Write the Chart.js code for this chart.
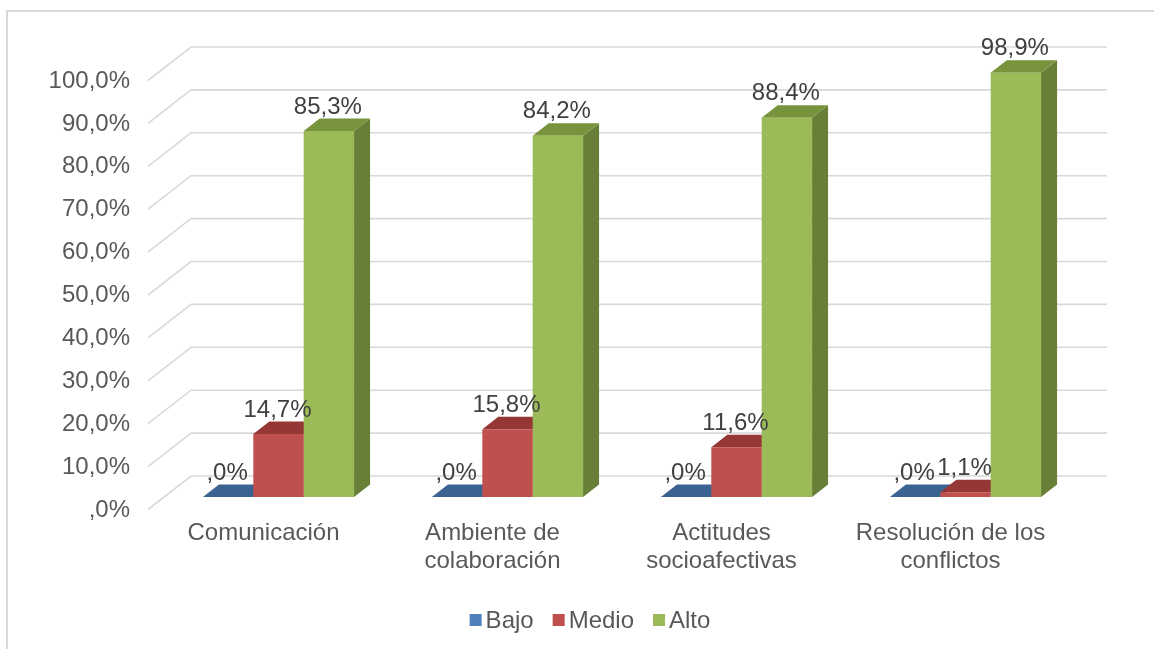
<!DOCTYPE html>
<html>
<head>
<meta charset="utf-8">
<script src="https://cdn.jsdelivr.net/npm/chart.js@4.4.1/dist/chart.umd.min.js"></script>
<style>
    html, body { margin: 0; padding: 0; background: #fff; overflow: hidden; }
    #grafico { display: block; }
</style>
</head>
<body>
<canvas id="grafico" width="1154" height="649"></canvas>
<script>
// Dimensiones evaluadas
const categorias = [
    ['Comunicación'],
    ['Ambiente de', 'colaboración'],
    ['Actitudes', 'socioafectivas'],
    ['Resolución de los', 'conflictos']
];

// Porcentajes por nivel
const bajo = [0, 0, 0, 0];
const medio = [14.7, 15.8, 11.6, 1.1];
const alto = [85.3, 84.2, 88.4, 98.9];

// Eje Y: 0 a 100 en pasos de 10
const ejeMin = 0;
const ejeMax = 100;
const ejePaso = 10;

// Colores: frente, tapa y lateral de cada serie
const colores = {
    Bajo:  { frente: '#4F81BD', tapa: '#3B6391', lado: '#345881' },
    Medio: { frente: '#C0504D', tapa: '#953735', lado: '#8A3A38' },
    Alto:  { frente: '#9BBB59', tapa: '#77933C', lado: '#677F37' }
};

const fuente = '"Liberation Sans", Arial, sans-serif';

// Profundidad de la barra y de las paredes (efecto 3D)
const barraDX = 16, barraDY = 12.5;
const fondoDX = 27, fondoDY = 21;
const frenteDX = 16, frenteDY = 12.5;

// Formato de porcentaje como lo exporta SPSS (",0%", "85,3%")
function formatoPct(v) {
    if (v === 0) return ',0%';
    return v.toFixed(1).replace('.', ',') + '%';
}

function poligono(ctx, pts, color) {
    ctx.beginPath();
    ctx.moveTo(pts[0][0], pts[0][1]);
    for (let i = 1; i < pts.length; i++) ctx.lineTo(pts[i][0], pts[i][1]);
    ctx.closePath();
    ctx.fillStyle = color;
    ctx.fill();
}

// Borde del área del gráfico y líneas de la pared del fondo
const paredes = {
    id: 'paredes',
    beforeDraw(chart) {
        const ctx = chart.ctx;
        ctx.save();
        ctx.strokeStyle = '#d9d9d9';
        ctx.lineWidth = 2;
        ctx.beginPath();
        ctx.moveTo(7, chart.height);
        ctx.lineTo(7, 11);
        ctx.lineTo(chart.width, 11);
        ctx.stroke();
        ctx.restore();
    },
    beforeDatasetsDraw(chart) {
        const ctx = chart.ctx;
        const y = chart.scales.y;
        const area = chart.chartArea;
        ctx.save();
        ctx.strokeStyle = '#d9d9d9';
        ctx.lineWidth = 1.6;
        for (let v = ejeMin; v <= ejeMax; v += ejePaso) {
            const py = y.getPixelForValue(v);
            ctx.beginPath();
            ctx.moveTo(area.left - frenteDX, py + frenteDY);
            ctx.lineTo(area.left + fondoDX, py - fondoDY);
            ctx.lineTo(area.right + fondoDX, py - fondoDY);
            ctx.stroke();
        }
        ctx.restore();
    }
};

// Tapas y laterales de todas las barras; Chart.js pinta luego los frentes
// encima, así el frente de cada barra tapa el lateral de su vecina.
const barras3d = {
    id: 'barras3d',
    beforeDatasetsDraw(chart) {
        const ctx = chart.ctx;
        ctx.save();
        chart.data.datasets.forEach((ds, i) => {
            const c = colores[ds.label];
            chart.getDatasetMeta(i).data.forEach(bar => {
                const izq = bar.x - bar.width / 2;
                const der = bar.x + bar.width / 2;
                const arriba = bar.y;
                const base = bar.base;
                poligono(ctx, [
                    [der, arriba], [der + barraDX, arriba - barraDY],
                    [der + barraDX, base - barraDY], [der, base]
                ], c.lado);
                poligono(ctx, [
                    [izq, arriba], [izq + barraDX, arriba - barraDY],
                    [der + barraDX, arriba - barraDY], [der, arriba]
                ], c.tapa);
            });
        });
        ctx.restore();
    },
    afterDatasetsDraw(chart) {
        const ctx = chart.ctx;
        ctx.save();
        ctx.font = '24px ' + fuente;
        ctx.fillStyle = '#404040';
        ctx.textAlign = 'center';
        ctx.textBaseline = 'middle';
        chart.data.datasets.forEach((ds, i) => {
            chart.getDatasetMeta(i).data.forEach((bar, j) => {
                ctx.fillText(formatoPct(ds.data[j]), bar.x - 1, bar.y - 24);
            });
        });
        ctx.restore();
    }
};

// Leyenda inferior
const leyenda = {
    id: 'leyenda',
    afterDraw(chart) {
        const ctx = chart.ctx;
        const caja = 12, hueco = 4, separacion = 19;
        ctx.save();
        ctx.font = '24px ' + fuente;
        ctx.textBaseline = 'middle';
        const items = chart.data.datasets.map(ds => ({
            texto: ds.label,
            color: colores[ds.label].frente,
            ancho: ctx.measureText(ds.label).width
        }));
        let total = 0;
        items.forEach((it, i) => {
            total += caja + hueco + it.ancho + (i < items.length - 1 ? separacion : 0);
        });
        let x = 590 - total / 2;
        const yc = 620;
        items.forEach(it => {
            ctx.fillStyle = it.color;
            ctx.fillRect(x, yc - caja / 2, caja, caja);
            ctx.fillStyle = '#595959';
            ctx.fillText(it.texto, x + caja + hueco, yc + 1);
            x += caja + hueco + it.ancho + separacion;
        });
        ctx.restore();
    }
};

new Chart(document.getElementById('grafico'), {
    type: 'bar',
    data: {
        labels: categorias,
        datasets: [
            { label: 'Bajo', data: bajo, backgroundColor: colores.Bajo.frente },
            { label: 'Medio', data: medio, backgroundColor: colores.Medio.frente },
            { label: 'Alto', data: alto, backgroundColor: colores.Alto.frente }
        ]
    },
    options: {
        responsive: false,
        devicePixelRatio: 1,
        animation: false,
        categoryPercentage: 0.66,
        barPercentage: 1,
        layout: { padding: { top: 68, right: 74, bottom: 0, left: 0 } },
        plugins: {
            legend: { display: false },
            tooltip: { enabled: false }
        },
        scales: {
            x: {
                grid: { display: false, drawTicks: false },
                border: { display: false },
                ticks: {
                    color: '#595959',
                    font: { family: fuente, size: 24, lineHeight: 1.15 },
                    padding: 23,
                    labelOffset: -15,
                    maxRotation: 0,
                    autoSkip: false
                },
                afterFit(scale) { scale.height = 152; }
            },
            y: {
                min: ejeMin,
                max: ejeMax,
                grid: { display: false, drawTicks: false },
                border: { display: false },
                ticks: {
                    stepSize: ejePaso,
                    color: '#595959',
                    font: { family: fuente, size: 24 },
                    padding: 34,
                    labelOffset: 13,
                    callback: v => formatoPct(v)
                },
                afterFit(scale) { scale.width = 164; }
            }
        }
    },
    plugins: [paredes, barras3d, leyenda]
});
</script>
</body>
</html>
